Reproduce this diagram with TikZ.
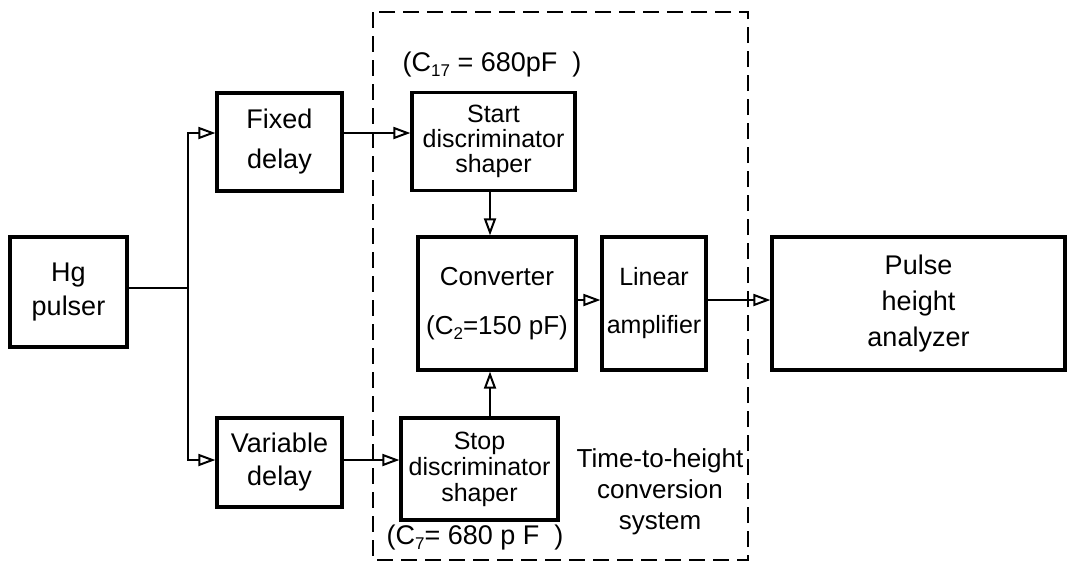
\documentclass[tikz,border=0pt]{standalone}
\usepackage{fontspec}
\setmainfont{Liberation Sans}
\usetikzlibrary{arrows.meta}
\newcommand{\lowsub}[1]{\raisebox{-5pt}{\fontsize{17}{17}\selectfont #1}}
\begin{document}
\begin{tikzpicture}[x=1pt,y=-1pt,
  box/.style={draw, line width=3.2pt, inner sep=0pt, align=center},
  conn/.style={line width=2pt},
  arr/.style={conn, -{Triangle[open,length=17pt,width=12pt]}},
  frame/.style={line width=2.2pt, dash pattern=on 16pt off 8pt},
  lbl/.style={inner sep=0pt, align=center}]
\useasboundingbox (0,0) rectangle (1075,563);
% level coordinates
\coordinate (r1) at (0,133);
\coordinate (r2) at (0,460);
\coordinate (r3) at (0,300);
\coordinate (cx) at (490,0);
\coordinate (j) at (188,288);
% dashed frame
\draw[frame] (373,12) rectangle (748,560);
% boxes
\node[box, minimum width=117pt, minimum height=110pt, font=\fontsize{27}{34}\selectfont] (hg) at (68.5,292) {Hg\\pulser};
\node[box, minimum width=125pt, minimum height=98pt, font=\fontsize{27}{40}\selectfont] (fd) at (279.5,142) {Fixed\\delay};
\node[box, minimum width=125pt, minimum height=89pt, font=\fontsize{27}{33}\selectfont] (vd) at (279.5,462.5) {Variable\\delay};
\node[box, minimum width=163pt, minimum height=98pt, font=\fontsize{25}{25}\selectfont] (sds) at (493.5,141.5) {Start\\discriminator\\shaper};
\node[box, minimum width=158pt, minimum height=133pt, font=\fontsize{26}{49}\selectfont] (conv) at (497,303.5) {Converter\\(C\lowsub{2}=150 pF)};
\node[box, minimum width=157pt, minimum height=102pt, font=\fontsize{25}{26}\selectfont] (stop) at (479.5,469) {Stop\\discriminator\\shaper};
\node[box, minimum width=104pt, minimum height=133pt, font=\fontsize{25}{48}\selectfont] (lin) at (654,303.5) {Linear\\amplifier};
\node[box, minimum width=293pt, minimum height=133pt, font=\fontsize{27}{36}\selectfont] (pha) at (918.5,303.5) {Pulse\\height\\analyzer};
% labels
\node[lbl, font=\fontsize{27}{28}\selectfont] (l17) at (492,65) {(C\lowsub{17} = 680pF\ \ )};
\node[lbl, font=\fontsize{27}{28}\selectfont] (l7) at (475,538) {(C\lowsub{7}= 680 p F\ \ )};
\node[lbl, font=\fontsize{26}{31}\selectfont] (tth) at (660,492) {Time-to-height\\conversion\\system};
% connectors
\draw[conn] (hg.east |- j) -- (j);
\draw[arr] (j) |- (fd.west |- r1);
\draw[arr] (j) |- (vd.west |- r2);
\draw[arr] (fd.east |- r1) -- (sds.west |- r1);
\draw[arr] (vd.east |- r2) -- (stop.west |- r2);
\draw[arr] (sds.south -| cx) -- (conv.north -| cx);
\draw[arr] (stop.north -| cx) -- (conv.south -| cx);
\draw[arr] (conv.east |- r3) -- (lin.west |- r3);
\draw[arr] (lin.east |- r3) -- (pha.west |- r3);
\end{tikzpicture}
\end{document}
